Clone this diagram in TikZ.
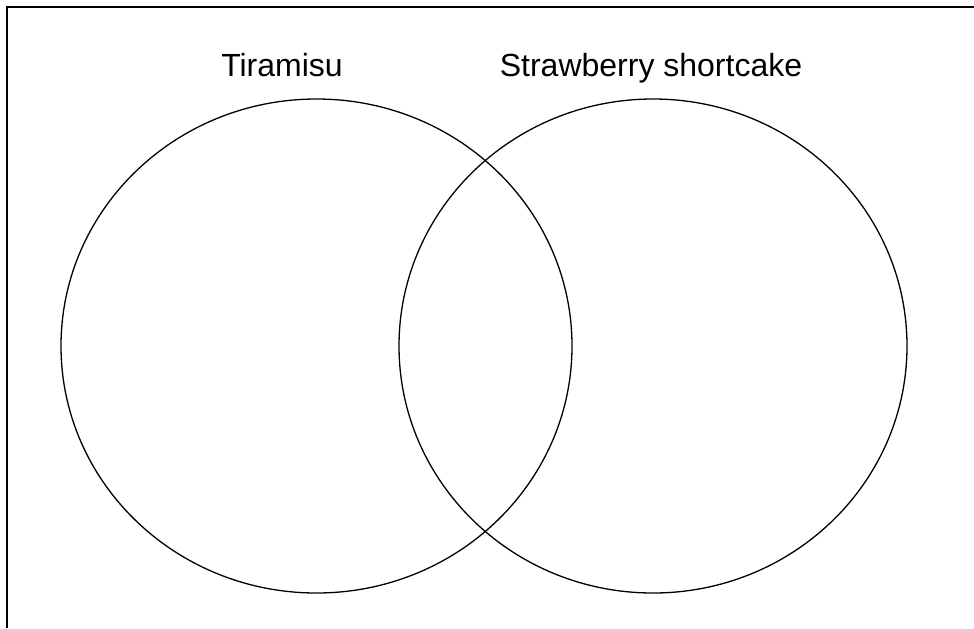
\documentclass[tikz,border=0pt]{standalone}
\usepackage{fontspec}
\setmainfont{Liberation Sans}
\usetikzlibrary{shapes.geometric}
\begin{document}
\begin{tikzpicture}[x=0.5pt,y=-0.5pt,
  set/.style={draw,ellipse,line width=0.65pt,inner sep=0pt,minimum height=247pt},
  title/.style={anchor=base,font=\fontsize{16}{19}\selectfont}]
\useasboundingbox (0,0) rectangle (974,628);
\draw[line width=1pt] (7,628) -- (7,7) -- (974,7);
\node[set,minimum width=255.5pt] (s1) at (316.5,346) {};
\node[set,minimum width=254pt] (s2) at (653,346) {};
\node[title] (t1) at (282,76) {Tiramisu};
\node[title] (t2) at (651,76) {Strawberry shortcake};
\end{tikzpicture}
\end{document}
